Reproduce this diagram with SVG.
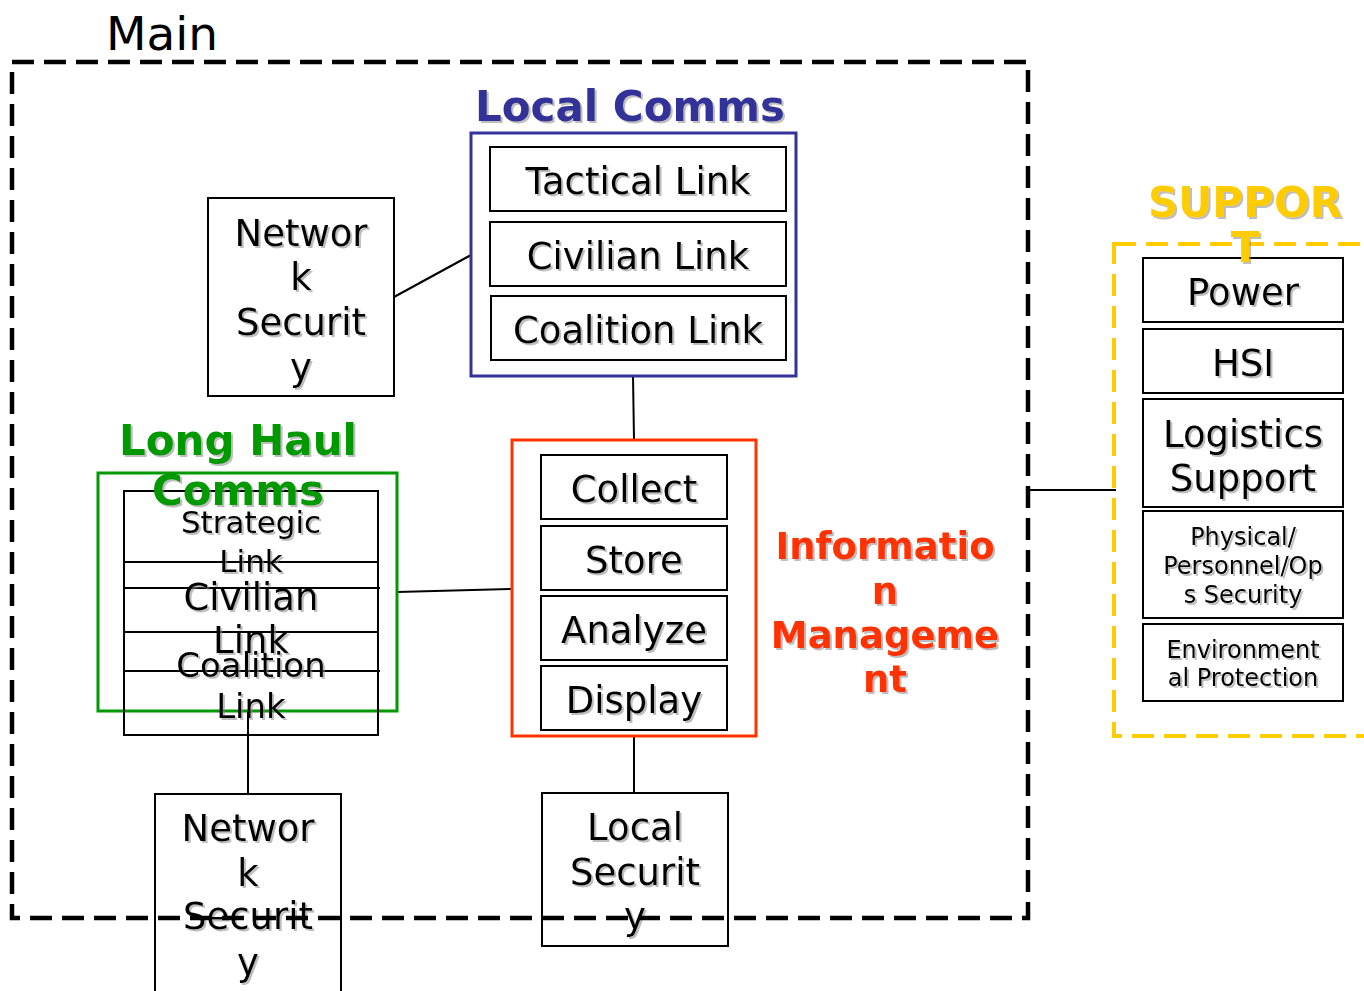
<svg xmlns="http://www.w3.org/2000/svg" width="1364" height="991" viewBox="0 0 1364 991">
<defs>
<filter id="sh" x="-10%" y="-10%" width="130%" height="130%">
<feDropShadow dx="2" dy="2" stdDeviation="0.6" flood-color="#888" flood-opacity="0.55"/>
</filter>
<style>
text{font-family:"DejaVu Sans","Verdana",sans-serif;text-anchor:middle;fill:#000}
.t{font-size:37px;filter:url(#sh)}
.s{font-size:24px;filter:url(#sh)}
.b{font-weight:bold;font-size:42px;filter:url(#sh)}
.box{fill:#fff;stroke:#000;stroke-width:2}
.ln{stroke:#000;stroke-width:2;fill:none}
</style>
</defs>
<rect width="1364" height="991" fill="#fff"/>

<g id="connectors">
<line class="ln" x1="394" y1="297" x2="471" y2="255"/>
<line class="ln" x1="633" y1="376" x2="634" y2="440"/>
<line class="ln" x1="397" y1="592" x2="512" y2="589"/>
<line class="ln" x1="248" y1="711" x2="248" y2="794"/>
<line class="ln" x1="634" y1="736" x2="634" y2="793"/>
<line class="ln" x1="1028" y1="490" x2="1116" y2="490"/>
</g>

<g id="local-comms">
<text class="b" x="630" y="121" style="fill:#333399">Local Comms</text>
<rect x="471" y="133" width="325" height="243" fill="#fff" stroke="#333399" stroke-width="3"/>
<g id="tactical-link"><rect class="box" x="490" y="147" width="296" height="64"/><text class="t" x="638" y="194">Tactical Link</text></g>
<g id="civilian-link"><rect class="box" x="490" y="222" width="296" height="64"/><text class="t" x="638" y="269">Civilian Link</text></g>
<g id="coalition-link"><rect class="box" x="491" y="296" width="295" height="64"/><text class="t" x="638" y="343">Coalition Link</text></g>
</g>

<g id="network-security-top">
<rect class="box" x="208" y="198" width="186" height="198"/>
<text class="t" x="301" y="246">Networ</text>
<text class="t" x="301" y="290">k</text>
<text class="t" x="301" y="335">Securit</text>
<text class="t" x="301" y="380">y</text>
</g>

<g id="info-management">
<rect x="512" y="440" width="244" height="296" fill="#fff" stroke="#FF3300" stroke-width="3"/>
<g id="collect"><rect class="box" x="541" y="455" width="186" height="64"/><text class="t" x="634" y="502">Collect</text></g>
<g id="store"><rect class="box" x="541" y="526" width="186" height="64"/><text class="t" x="634" y="573">Store</text></g>
<g id="analyze"><rect class="box" x="541" y="596" width="186" height="64"/><text class="t" x="634" y="643">Analyze</text></g>
<g id="display"><rect class="box" x="541" y="666" width="186" height="64"/><text class="t" x="634" y="713">Display</text></g>
<text class="b" x="885" y="559" style="fill:#FF3300;font-size:37px">Informatio</text>
<text class="b" x="885" y="604" style="fill:#FF3300;font-size:37px">n</text>
<text class="b" x="885" y="648" style="fill:#FF3300;font-size:37px">Manageme</text>
<text class="b" x="885" y="692" style="fill:#FF3300;font-size:37px">nt</text>
</g>

<g id="long-haul-comms">
<rect x="98" y="473" width="299" height="238" fill="#fff" stroke="#009900" stroke-width="3"/>
<rect x="124" y="491" width="254" height="244" fill="none" stroke="#000" stroke-width="2"/>
<line class="ln" x1="124" y1="562" x2="378" y2="562"/>
<line class="ln" x1="124" y1="588" x2="380" y2="588"/>
<line class="ln" x1="124" y1="632" x2="378" y2="632"/>
<line class="ln" x1="124" y1="671" x2="380" y2="671"/>
<text class="b" x="238" y="455" style="fill:#009900">Long Haul</text>
<text class="b" x="238" y="505" style="fill:#009900">Comms</text>
<g id="strategic-link"><text class="t" x="251" y="533" style="font-size:31px">Strategic</text><text class="t" x="251" y="572" style="font-size:31px">Link</text></g>
<g id="lh-civilian-link"><text class="t" x="251" y="610">Civilian</text><text class="t" x="251" y="653">Link</text></g>
<g id="lh-coalition-link"><text class="t" x="251" y="677" style="font-size:34px">Coalition</text><text class="t" x="251" y="718" style="font-size:34px">Link</text></g>
</g>

<g id="network-security-bottom">
<rect class="box" x="155" y="794" width="186" height="210"/>
<text class="t" x="248" y="841">Networ</text>
<text class="t" x="248" y="886">k</text>
<text class="t" x="248" y="929">Securit</text>
<text class="t" x="248" y="975">y</text>
</g>

<g id="local-security">
<rect class="box" x="542" y="793" width="186" height="153"/>
<text class="t" x="635" y="840">Local</text>
<text class="t" x="635" y="885">Securit</text>
<text class="t" x="635" y="929">y</text>
</g>

<g id="support">
<rect x="1114" y="244" width="270" height="492" fill="none" stroke="#FFCC00" stroke-width="4" stroke-dasharray="22 10"/>
<g id="power"><rect class="box" x="1143" y="258" width="200" height="64"/><text class="t" x="1243" y="305">Power</text></g>
<g id="hsi"><rect class="box" x="1143" y="329" width="200" height="64"/><text class="t" x="1243" y="376">HSI</text></g>
<g id="logistics"><rect class="box" x="1143" y="399" width="200" height="108"/><text class="t" x="1243" y="447">Logistics</text><text class="t" x="1243" y="491">Support</text></g>
<g id="physical"><rect class="box" x="1143" y="511" width="200" height="107"/><text class="s" x="1243" y="545">Physical/</text><text class="s" x="1243" y="574">Personnel/Op</text><text class="s" x="1243" y="603">s Security</text></g>
<g id="environmental"><rect class="box" x="1143" y="624" width="200" height="77"/><text class="s" x="1243" y="658">Environment</text><text class="s" x="1243" y="686">al Protection</text></g>
<text class="b" x="1245" y="217" style="fill:#FFCC00">SUPPOR</text>
<text class="b" x="1245" y="262" style="fill:#FFCC00">T</text>
</g>

<g id="main">
<text x="162" y="50" style="font-size:47px;text-anchor:middle">Main</text>
<rect x="12" y="62" width="1016" height="856" fill="none" stroke="#000" stroke-width="4.5" stroke-dasharray="22 10"/>
</g>
</svg>
